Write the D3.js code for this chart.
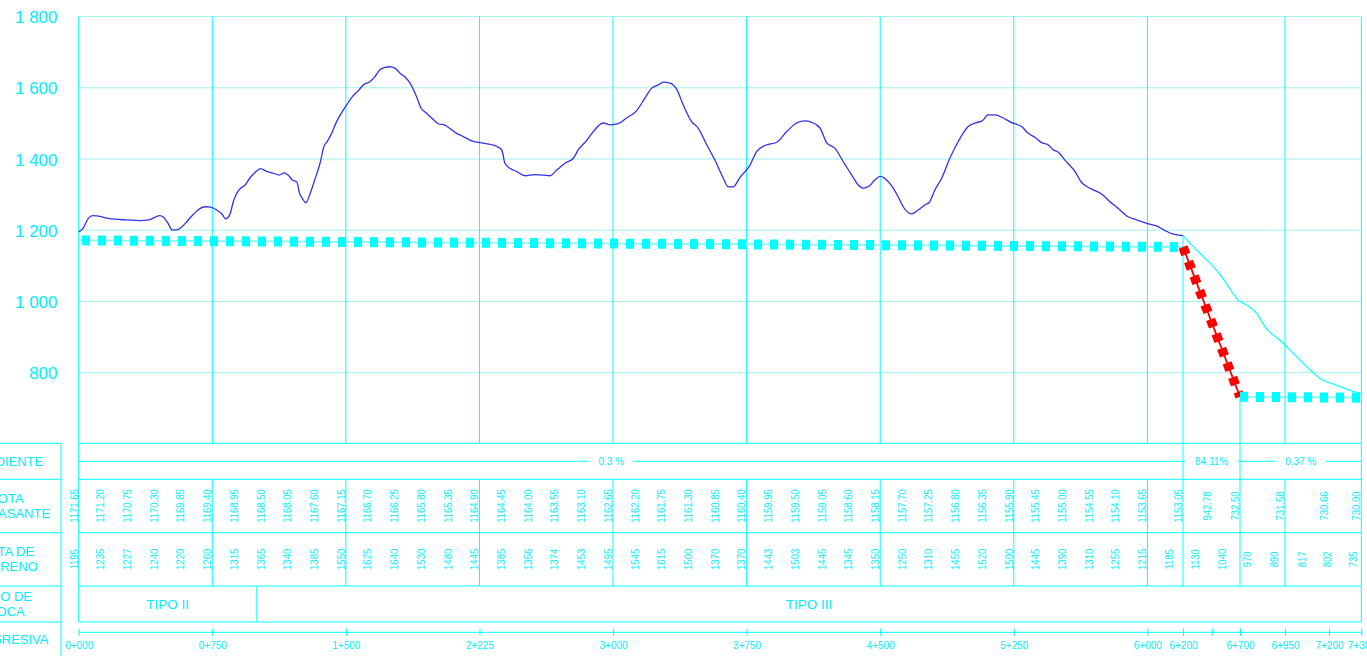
<!DOCTYPE html>
<html>
<head>
<meta charset="utf-8">
<script src="https://cdn.jsdelivr.net/npm/d3@7"></script>
<style>
  body { margin: 0; background: #fff; }
  svg { display: block; font-family: "Liberation Sans", Arial, sans-serif; }
</style>
</head>
<body>
<svg id="chart" width="1367" height="656"></svg>
<script>
// stations every 150 m where the table lists values
const stations = [0, 150, 300, 450, 600, 750, 900, 1050, 1200, 1350, 1500, 1650, 1800, 1950, 2100,
  2250, 2400, 2550, 2700, 2850, 3000, 3150, 3300, 3450, 3600, 3750, 3900, 4050, 4200, 4350,
  4500, 4650, 4800, 4950, 5100, 5250, 5400, 5550, 5700, 5850, 6000];

const rasanteStations = stations.concat([6200, 6450, 6700, 6950, 7200, 7380]);
const rasanteValues = [1171.65, 1171.20, 1170.75, 1170.30, 1169.85, 1169.40, 1168.95, 1168.50, 1168.05,
  1167.60, 1167.15, 1166.70, 1166.25, 1165.80, 1165.35, 1164.90, 1164.45, 1164.00, 1163.55, 1163.10,
  1162.65, 1162.20, 1161.75, 1161.30, 1160.85, 1160.40, 1159.95, 1159.50, 1159.05, 1158.60, 1158.15,
  1157.70, 1157.25, 1156.80, 1156.35, 1155.90, 1155.45, 1155.00, 1154.55, 1154.10, 1153.65,
  1153.05, 942.78, 732.50, 731.58, 730.66, 730.00];

const terrenoStations = stations.concat([6150, 6350, 6585, 6770, 6920, 7075, 7220, 7365]);
const terrenoValues = [1195, 1235, 1227, 1240, 1220, 1260, 1315, 1365, 1340, 1385, 1550, 1625, 1640,
  1530, 1480, 1445, 1385, 1356, 1374, 1453, 1495, 1545, 1615, 1500, 1370, 1370, 1443, 1503, 1445,
  1345, 1350, 1250, 1310, 1455, 1520, 1500, 1445, 1390, 1310, 1255, 1215,
  1185, 1130, 1040, 970, 890, 817, 802, 735];

// ground profile (blue part, up to 6+200)
const profileKm = [0, 25, 55, 80, 120, 150, 205, 270, 345, 400, 430, 455, 475, 500, 525, 550, 600, 635,
  670, 710, 740, 775, 805, 825, 850, 868, 883, 905, 935, 960, 990, 1020, 1055, 1095, 1125, 1155, 1175,
  1200, 1225, 1240, 1255, 1275, 1300, 1325, 1355, 1377, 1395, 1420, 1448, 1475, 1505, 1540, 1570, 1598,
  1635, 1663, 1690, 1720, 1748, 1775, 1804, 1832, 1860, 1897, 1922, 1950, 1982, 2019, 2056, 2094, 2122,
  2159, 2206, 2253, 2319, 2347, 2375, 2393, 2421, 2459, 2506, 2562, 2608, 2646, 2684, 2730, 2777, 2805,
  2852, 2889, 2945, 2983, 3029, 3076, 3133, 3179, 3217, 3254, 3282, 3320, 3357, 3394, 3441, 3478, 3526,
  3572, 3619, 3647, 3675, 3712, 3769, 3806, 3853, 3919, 3975, 4031, 4077, 4115, 4162, 4199, 4246, 4292,
  4340, 4377, 4405, 4438, 4470, 4499, 4536, 4573, 4601, 4629, 4676, 4714, 4751, 4775, 4807, 4845, 4891,
  4938, 4994, 5041, 5075, 5106, 5144, 5191, 5238, 5294, 5331, 5369, 5406, 5443, 5471, 5500, 5537, 5593,
  5631, 5677, 5743, 5790, 5846, 5884, 5940, 6005, 6052, 6099, 6145, 6200];
const profileElev = [1195, 1206, 1234, 1241, 1239, 1235, 1231, 1229, 1227, 1230, 1237, 1241, 1237, 1221,
  1201, 1201, 1220, 1240, 1257, 1266, 1265, 1257, 1245, 1232, 1246, 1280, 1299, 1316, 1327, 1346, 1362,
  1373, 1365, 1360, 1355, 1361, 1355, 1341, 1335, 1304, 1290, 1277, 1304, 1341, 1388, 1435, 1449, 1472,
  1505, 1529, 1552, 1577, 1592, 1608, 1617, 1631, 1650, 1657, 1659, 1655, 1641, 1630, 1613, 1575, 1543,
  1530, 1515, 1499, 1495, 1482, 1472, 1463, 1451, 1446, 1440, 1435, 1426, 1388, 1374, 1365, 1353, 1356,
  1355, 1353, 1369, 1388, 1402, 1426, 1452, 1477, 1501, 1496, 1499, 1515, 1536, 1571, 1599, 1608, 1616,
  1613, 1596, 1552, 1505, 1487, 1440, 1397, 1346, 1322, 1322, 1348, 1383, 1421, 1438, 1447, 1477, 1501,
  1507, 1503, 1487, 1446, 1430, 1393, 1355, 1327, 1318, 1324, 1341, 1351, 1341, 1318, 1294, 1266, 1246,
  1257, 1271, 1278, 1313, 1346, 1402, 1449, 1491, 1502, 1508, 1524, 1524, 1515, 1502, 1491, 1472, 1461,
  1446, 1440, 1426, 1419, 1397, 1365, 1334, 1318, 1302, 1280, 1257, 1240, 1229, 1218, 1212, 1199, 1189,
  1185];

// ground profile past 6+200 (thin cyan)
const tailKm = [6200, 6290, 6392, 6479, 6538, 6597, 6685, 6737, 6793, 6839, 6932, 6997, 7064, 7149, 7243, 7317, 7380];
const tailElev = [1185, 1154, 1121, 1093, 1070, 1042, 1004, 990, 967, 929, 887, 855, 822, 784, 765, 751, 742];

// design grade line
const gradeBreaks = [0, 6200, 6700, 7380];
const gradeElev = [1171.65, 1153.05, 732.50, 730.00];
const gradeLabels = ["0.3 %", "84.11%", "0.37 %"];
const gradeLabelAt = [2990, 6450, 7040];

const rockTypes = ["TIPO II", "TIPO III"];
const rockBreaks = [0, 1000, 7380];

const kmTicks = [0, 750, 1500, 2250, 3000, 3750, 4500, 5250, 6000, 6200, 6450, 6700, 6950, 7200, 7380];
const kmLabels = ["0+000", "0+750", "1+500", "2+225", "3+000", "3+750", "4+500", "5+250", "6+000",
  "6+200", "", "6+700", "6+950", "7+200", "7+380"];
const gridKm = [0, 750, 1500, 2250, 3000, 3750, 4500, 5250, 6000, 6950, 7380];
const tableDividers = [750, 1500, 2250, 3000, 3750, 4500, 5250, 6000, 6200, 6700, 6950];

const yTicks = [800, 1000, 1200, 1400, 1600, 1800];
const yLabels = ["800", "1 000", "1 200", "1 400", "1 600", "1 800"];

const rowHeaders = [["PENDIENTE"], ["COTA", "SUBRASANTE"], ["COTA DE", "TERRENO"], ["TIPO DE", "ROCA"], ["PROGRESIVA"]];

const CYAN = "#00ffff", TEXT = "#00eeff", BLUE = "#3232ec", RED = "#ff0000", PALE = "#80ffff";

const svg = d3.select("#chart");
svg.append("rect").attr("width", 1367).attr("height", 656).attr("fill", "#fff");

const x = d3.scaleLinear()
  .domain([0, 6200, 6450, 6700, 6950, 7200, 7380])
  .range([78.7, 1183, 1211.7, 1240, 1285, 1329, 1361.3]);
const y = d3.scaleLinear().domain([600, 1800]).range([444, 16.5]);

const left = x(0), right = x(7380);
const rowY = [443.3, 479.3, 532.7, 586, 622, 656];
const axisY = 632.3;

function hline(g, y0, x0, x1, color, w) {
  g.append("line").attr("x1", x0).attr("x2", x1).attr("y1", y0).attr("y2", y0)
    .attr("stroke", color || CYAN).attr("stroke-width", w || 1);
}
function vline(g, x0, y0, y1, color, w) {
  g.append("line").attr("x1", x0).attr("x2", x0).attr("y1", y0).attr("y2", y1)
    .attr("stroke", color || CYAN).attr("stroke-width", w || 1);
}

// horizontal grid (dotted)
svg.append("g").selectAll("line").data(yTicks).join("line")
  .attr("x1", left).attr("x2", right)
  .attr("y1", d => y(d)).attr("y2", d => y(d))
  .attr("stroke", CYAN).attr("stroke-width", 1).attr("stroke-dasharray", "1 1");

// vertical grid
const grid = svg.append("g");
gridKm.forEach(k => vline(grid, x(k), y(1800), rowY[0]));
vline(grid, x(6200), y(profileElev[profileElev.length - 1]), rowY[0]);
vline(grid, x(6700), y(gradeElev[2]), rowY[0]);

// y axis labels
const yAxis = svg.append("g").attr("transform", "translate(57.5,0)")
  .call(d3.axisLeft(y).tickValues(yTicks).tickFormat((d, i) => yLabels[i]).tickSize(0).tickPadding(0));
yAxis.select(".domain").remove();
yAxis.selectAll("text").attr("fill", TEXT).attr("font-size", 17)
  .attr("font-family", "'Liberation Sans', Arial, sans-serif").attr("dy", "0.36em");

// ground profile
svg.append("path")
  .datum(profileKm.map((k, i) => [k, profileElev[i]]))
  .attr("d", d3.line().x(d => x(d[0])).y(d => y(d[1])).curve(d3.curveMonotoneX))
  .attr("fill", "none").attr("stroke", BLUE).attr("stroke-width", 1.3);
svg.append("path")
  .datum(tailKm.map((k, i) => [k, tailElev[i]]))
  .attr("d", d3.line().x(d => x(d[0])).y(d => y(d[1])).curve(d3.curveMonotoneX))
  .attr("fill", "none").attr("stroke", CYAN).attr("stroke-width", 1.2);

// grade line
const gradePts = gradeBreaks.map((k, i) => [k, gradeElev[i]]);
const gradeLine = d3.line().x(d => x(d[0])).y(d => y(d[1]));
const gradeSegs = [
  { pts: gradePts.slice(0, 2), color: CYAN, thin: PALE, w: 10, dash: "8 8", off: 12.7 },
  { pts: gradePts.slice(1, 3), color: RED, thin: RED, w: 9.5, dash: "8 7.5", off: 0 },
  { pts: gradePts.slice(2, 4), color: CYAN, thin: PALE, w: 10, dash: "8 8", off: 0 }
];
gradeSegs.forEach(s => {
  svg.append("path").attr("d", gradeLine(s.pts)).attr("fill", "none")
    .attr("stroke", s.thin).attr("stroke-width", 1.8);
  svg.append("path").attr("d", gradeLine(s.pts)).attr("fill", "none")
    .attr("stroke", s.color).attr("stroke-width", s.w)
    .attr("stroke-dasharray", s.dash).attr("stroke-dashoffset", s.off);
});

// ---- table ----
const table = svg.append("g");
// horizontal rules
[0, 1, 2, 3].forEach(i => {
  hline(table, rowY[i], left, right);
  hline(table, rowY[i], -1, 61);
});
hline(table, rowY[4], left, right, PALE, 2.2);
hline(table, rowY[4], -1, 61, PALE, 2.2);
vline(table, 61, rowY[0], 656);

// borders
vline(table, left, rowY[0], rowY[4]);
vline(table, right, rowY[0], rowY[4]);
// station dividers in the elevation rows
tableDividers.forEach(k => vline(table, x(k), rowY[1], rowY[3]));
// grade breaks in the slope row
gradeBreaks.slice(1, -1).forEach(k => vline(table, x(k), rowY[0], rowY[1]));
// rock type breaks
rockBreaks.slice(1, -1).forEach(k => vline(table, x(k), rowY[3], rowY[4]));

// slope row: line with labels
const pendY = (rowY[0] + rowY[1]) / 2;
hline(table, pendY, left, right);
gradeLabels.forEach((t, i) => {
  const tx = x(gradeLabelAt[i]);
  const bg = table.append("rect").attr("fill", "#fff");
  const txt = table.append("text").attr("x", tx).attr("y", pendY + 3.6)
    .attr("text-anchor", "middle").attr("font-size", 10).attr("fill", TEXT).text(t);
  const w = txt.node().getComputedTextLength() + 18;
  bg.attr("x", tx - w / 2).attr("y", pendY - 2).attr("width", w).attr("height", 4);
});

// rotated values
function vertLabels(ks, vals, cy, fmt) {
  table.append("g").selectAll("text").data(ks).join("text")
    .attr("transform", d => `translate(${x(d) - 1.2},${cy}) rotate(-90) scale(0.83,1)`)
    .attr("text-anchor", "middle").attr("font-size", 11.5).attr("fill", TEXT)
    .text((d, i) => fmt(vals[i]));
}
vertLabels(rasanteStations, rasanteValues, (rowY[1] + rowY[2]) / 2, d3.format(".2f"));
vertLabels(terrenoStations, terrenoValues, (rowY[2] + rowY[3]) / 2, d3.format("d"));

// rock types
rockTypes.forEach((t, i) => {
  table.append("text").attr("x", (x(rockBreaks[i]) + x(rockBreaks[i + 1])) / 2)
    .attr("y", (rowY[3] + rowY[4]) / 2 + 5).attr("text-anchor", "middle")
    .attr("font-size", 13.5).attr("fill", TEXT).text(t);
});

// chainage axis
hline(table, axisY, left, right);
const kmAxis = table.append("g").attr("transform", `translate(0,${axisY - 3.7})`)
  .call(d3.axisBottom(x).tickValues(kmTicks).tickFormat((d, i) => kmLabels[i])
    .tickSizeInner(7.4).tickSizeOuter(0).tickPadding(6.2));
kmAxis.select(".domain").remove();
kmAxis.selectAll("line").attr("stroke", CYAN);
kmAxis.selectAll("text").attr("fill", TEXT).attr("font-size", 10)
  .attr("font-family", "'Liberation Sans', Arial, sans-serif");

// row headers
const headY = [0, 1, 2, 3].map(i => (rowY[i] + rowY[i + 1]) / 2).concat([639]);
rowHeaders.forEach((lines, i) => {
  const base = lines.length === 1 ? [headY[i] + 4.5] : [headY[i] - 3.5, headY[i] + 11.5];
  lines.forEach((l, j) => {
    table.append("text").attr("x", 6).attr("y", base[j]).attr("text-anchor", "middle")
      .attr("font-size", 13).attr("fill", TEXT).text(l);
  });
});
</script>
</body>
</html>
